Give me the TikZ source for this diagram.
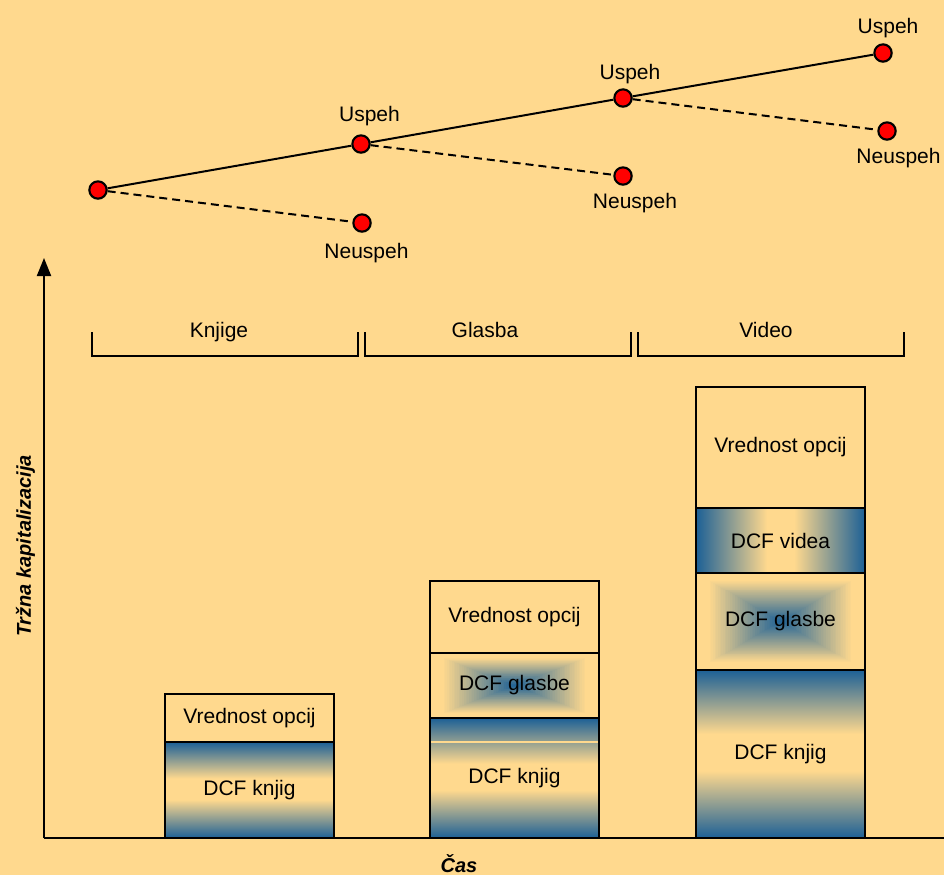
\documentclass[tikz,border=0pt]{standalone}
\usepackage{fontspec}
\setmainfont{Liberation Sans}
\usetikzlibrary{arrows.meta,calc}

\definecolor{bgbeige}{RGB}{255,217,142}
\definecolor{dcfblue}{RGB}{28,96,150}

% blue at both ends, beige band in the middle
\pgfdeclareverticalshading{knjigshade}{100bp}{color(0bp)=(dcfblue); color(25bp)=(dcfblue); color(45bp)=(bgbeige); color(56bp)=(bgbeige); color(75bp)=(dcfblue); color(100bp)=(dcfblue)}
\pgfdeclarehorizontalshading{videashade}{100bp}{color(0bp)=(dcfblue); color(25bp)=(dcfblue); color(46bp)=(bgbeige); color(54bp)=(bgbeige); color(75bp)=(dcfblue); color(100bp)=(dcfblue)}

\newcommand\lblfont{\fontsize{15.75pt}{18pt}\selectfont}
\newcommand\axfont{\fontsize{15pt}{18pt}\selectfont\bfseries\itshape}

\tikzset{
  sec/.style={draw=black, line width=1.6pt, minimum width=126.75pt, inner sep=0pt, outer sep=0pt, font=\lblfont},
  plainsec/.style={sec, fill=bgbeige},
  knjig/.style={sec, shade, shading=knjigshade},
  videa/.style={sec, shade, shading=videashade},
  glasbe/.style={sec, fill=bgbeige, path picture={
      \foreach \k in {50,49,...,1}{
        \pgfmathsetmacro\rgT{\k/50}
        \pgfmathtruncatemacro\rgP{max(0,100*(1-\rgT/0.86))}
        \fill[dcfblue!\rgP!bgbeige]
          ($(path picture bounding box.center)!\rgT!(path picture bounding box.south west)$)
          rectangle
          ($(path picture bounding box.center)!\rgT!(path picture bounding box.north east)$);
      }}},
  dot/.style={circle, draw=black, fill=red, line width=1.6pt, minimum size=13pt, inner sep=0pt},
  lbl/.style={font=\lblfont, inner sep=0pt},
  axl/.style={font=\axfont, inner sep=0pt},
  branch/.style={line width=1.5pt},
  failbranch/.style={line width=1.5pt, dash pattern=on 6pt off 3.75pt},
  brace/.style={line width=1.1pt},
  axis/.style={line width=1.5pt}
}

\begin{document}
\begin{tikzpicture}[x=0.75pt, y=-0.75pt]
  % canvas
  \fill[bgbeige] (0,0) rectangle (944,875);
  \useasboundingbox (0,0) rectangle (944,875);

  % decision tree
  \node[dot] (r)  at (98,190)  {};
  \node[dot] (u1) at (361,144) {};
  \node[dot] (n1) at (362,223) {};
  \node[dot] (u2) at (623,98)  {};
  \node[dot] (n2) at (623,176) {};
  \node[dot] (u3) at (883,53)  {};
  \node[dot] (n3) at (887,131) {};

  \draw[branch] (r) -- (u1);
  \draw[branch] (u1) -- (u2);
  \draw[branch] (u2) -- (u3);
  \draw[failbranch] (r) -- (n1);
  \draw[failbranch] (u1) -- (n2);
  \draw[failbranch] (u2) -- (n3);

  \node[lbl, anchor=base] (lu1) at (369.5,121) {Uspeh};
  \node[lbl, anchor=base] (lu2) at (630,79)    {Uspeh};
  \node[lbl, anchor=base] (lu3) at (888,33)    {Uspeh};
  \node[lbl, anchor=base] (ln1) at (366.5,258) {Neuspeh};
  \node[lbl, anchor=base] (ln2) at (635,208)   {Neuspeh};
  \node[lbl, anchor=base] (ln3) at (898.5,163) {Neuspeh};

  % axes
  \coordinate (o)    at (44,838);
  \coordinate (ytop) at (44,258);
  \coordinate (xend) at (944,838);
  \draw[axis, -{Triangle[length=13.5pt, width=10.5pt]}] (o) -- (ytop);
  \draw[axis] (o) -- (xend);
  \node[axl, rotate=90] (ylab) at (25.5,546) {Tržna kapitalizacija};
  \node[axl, anchor=base] (xlab) at (459,872) {Čas};

  % phase brackets
  \draw[brace] (92,332) -- (92,356) -- (358,356) -- (358,332);
  \draw[brace] (365,332) -- (365,356) -- (631,356) -- (631,332);
  \draw[brace] (638,332) -- (638,356) -- (904,356) -- (904,332);
  \node[lbl, anchor=base] (p1) at (219,337) {Knjige};
  \node[lbl, anchor=base] (p2) at (485,337) {Glasba};
  \node[lbl, anchor=base] (p3) at (766,337) {Video};

  % stage 1
  \node[knjig,    minimum height=72pt] (b1k) at (249.5,790) {DCF knjig};
  \node[plainsec, minimum height=36pt] (b1v) at (249.5,718) {Vrednost opcij};

  % stage 2
  \node[knjig,    minimum height=90pt]    (b2k) at (514.5,778)   {DCF knjig};
  \draw[bgbeige, line width=0.8pt] ([shift={(1.2,24)}]b2k.north west) -- ([shift={(-1.2,24)}]b2k.north east);
  \node[glasbe,   minimum height=48.75pt] (b2g) at (514.5,685.5) {DCF glasbe};
  \node[plainsec, minimum height=54pt]    (b2v) at (514.5,617)   {Vrednost opcij};

  % stage 3
  \node[knjig,    minimum height=126pt]   (b3k) at (780.5,754)   {DCF knjig};
  \node[glasbe,   minimum height=72.75pt] (b3g) at (780.5,621.5) {DCF glasbe};
  \node[videa,    minimum height=48.75pt] (b3d) at (780.5,540.5) {DCF videa};
  \node[plainsec, minimum height=90.75pt] (b3v) at (780.5,447.5) {Vrednost opcij};
\end{tikzpicture}
\end{document}
